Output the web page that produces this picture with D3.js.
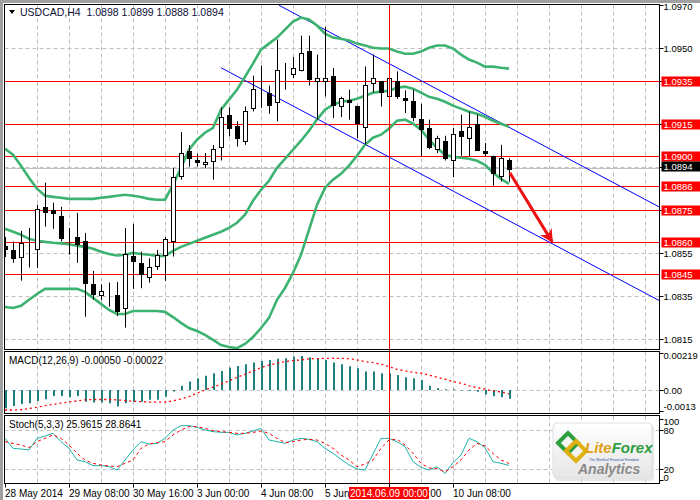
<!DOCTYPE html>
<html><head><meta charset="utf-8">
<script src="https://cdn.jsdelivr.net/npm/d3@7/dist/d3.min.js"></script>
<style>body{margin:0;background:#fff}svg{display:block}text{font-family:"Liberation Sans",Arial,sans-serif}</style>
</head><body><svg id="c" width="700" height="500"></svg>
<script>
// ---------- DATA ----------
const opens=[1.08583,1.08564,1.08531,1.08583,1.08570,1.08764,1.08750,1.08722,1.08632,1.08623,1.08603,1.08404,1.08353,1.08364,1.08353,1.08293,1.08536,1.08502,1.08440,1.08491,1.08541,1.08607,1.08909,1.09021,1.08983,1.08963,1.08979,1.09042,1.09192,1.09141,1.09068,1.09223,1.09305,1.09293,1.09249,1.09392,1.09381,1.09398,1.09489,1.09350,1.09350,1.09373,1.09230,1.09262,1.09234,1.09137,1.09341,1.09347,1.09277,1.09347,1.09269,1.09254,1.09173,1.09130,1.09032,1.09071,1.08983,1.09114,1.09083,1.09149,1.09024,1.09002,1.08909,1.0898];
const highs=[1.08624,1.08603,1.08652,1.08666,1.08773,1.08876,1.08783,1.08764,1.08666,1.08736,1.08643,1.08466,1.08404,1.08412,1.08415,1.08665,1.08685,1.08556,1.08525,1.08564,1.08623,1.08944,1.09111,1.09051,1.09010,1.09014,1.09051,1.09226,1.09226,1.09161,1.09230,1.09373,1.09420,1.09327,1.09541,1.09432,1.09460,1.09559,1.09559,1.09471,1.09600,1.09409,1.09275,1.09308,1.09234,1.09416,1.09471,1.09347,1.09364,1.09393,1.09305,1.09308,1.09243,1.09169,1.09094,1.09094,1.09130,1.09192,1.09207,1.09192,1.09060,1.09002,1.09052,1.0899];
const lows=[1.08531,1.08504,1.08421,1.08482,1.08480,1.08672,1.08662,1.08603,1.08542,1.08504,1.08254,1.08333,1.08331,1.08300,1.08257,1.08203,1.08383,1.08386,1.08412,1.08471,1.08420,1.08533,1.08890,1.08951,1.08951,1.08944,1.08890,1.08979,1.09091,1.09044,1.09052,1.09207,1.09224,1.09196,1.09161,1.09308,1.09362,1.09393,1.09327,1.09169,1.09277,1.09176,1.09181,1.09169,1.09083,1.09052,1.09295,1.09230,1.09271,1.09265,1.09200,1.09161,1.08998,1.09032,1.09014,1.08979,1.08902,1.09001,1.08998,1.09029,1.08998,1.08862,1.08882,1.0888];
const closes=[1.08569,1.08524,1.08597,1.08583,1.08755,1.08742,1.08733,1.08621,1.08632,1.08593,1.08412,1.08359,1.08372,1.08364,1.08280,1.08544,1.08510,1.08452,1.08486,1.08541,1.08614,1.08902,1.09014,1.08990,1.08970,1.08972,1.09032,1.09181,1.09130,1.09083,1.09210,1.09311,1.09305,1.09238,1.09401,1.09392,1.09409,1.09479,1.09359,1.09362,1.09362,1.09238,1.09269,1.09252,1.09153,1.09330,1.09361,1.09295,1.09362,1.09277,1.09258,1.09181,1.09127,1.09040,1.09083,1.08990,1.09102,1.09091,1.09137,1.09029,1.09014,1.08921,1.08992,1.0894];
const bbUpper=[1.09034,1.09006,1.08955,1.08899,1.08848,1.08815,1.08810,1.08806,1.08801,1.08801,1.08801,1.08801,1.08806,1.08810,1.08815,1.08820,1.08815,1.08810,1.08801,1.08797,1.08797,1.08866,1.08945,1.09029,1.09076,1.09108,1.09131,1.09215,1.09262,1.09308,1.09368,1.09429,1.09494,1.09522,1.09550,1.09587,1.09624,1.09643,1.09634,1.09606,1.09568,1.09550,1.09545,1.09536,1.09522,1.09513,1.09503,1.09499,1.09499,1.09485,1.09475,1.09475,1.09485,1.09503,1.09513,1.09513,1.09499,1.09471,1.09448,1.09434,1.09415,1.09415,1.09410,1.09406];
const bbMiddle=[1.08662,1.08648,1.08634,1.08615,1.08606,1.08601,1.08597,1.08594,1.08590,1.08583,1.08578,1.08569,1.08555,1.08545,1.08538,1.08541,1.08550,1.08545,1.08541,1.08536,1.08536,1.08559,1.08578,1.08592,1.08606,1.08620,1.08634,1.08648,1.08666,1.08690,1.08727,1.08792,1.08843,1.08885,1.08945,1.08987,1.09029,1.09071,1.09117,1.09169,1.09215,1.09238,1.09252,1.09257,1.09266,1.09280,1.09294,1.09299,1.09303,1.09317,1.09322,1.09313,1.09294,1.09275,1.09266,1.09252,1.09234,1.09220,1.09206,1.09196,1.09182,1.09164,1.09150,1.09136];
const bbLower=[1.08299,1.08294,1.08304,1.08332,1.08359,1.08383,1.08383,1.08383,1.08383,1.08383,1.08369,1.08341,1.08313,1.08285,1.08266,1.08266,1.08280,1.08280,1.08280,1.08280,1.08276,1.08252,1.08225,1.08201,1.08187,1.08169,1.08146,1.08122,1.08113,1.08108,1.08127,1.08159,1.08201,1.08248,1.08332,1.08387,1.08457,1.08541,1.08657,1.08773,1.08852,1.08890,1.08917,1.08955,1.09001,1.09052,1.09085,1.09099,1.09127,1.09164,1.09169,1.09150,1.09122,1.09076,1.09038,1.09006,1.08996,1.08992,1.08987,1.08978,1.08959,1.08922,1.08894,1.08871];
const macdHist=[-0.00103,-0.00090,-0.00079,-0.00075,-0.00062,-0.00053,-0.00034,-0.00034,-0.00041,-0.00034,-0.00066,-0.00071,-0.00071,-0.00075,-0.00094,-0.00075,-0.00066,-0.00066,-0.00056,-0.00056,-0.00038,-0.00009,0.00023,0.00047,0.00066,0.00079,0.00094,0.00107,0.00126,0.00135,0.00144,0.00154,0.00163,0.00169,0.00175,0.00178,0.00188,0.00191,0.00184,0.00178,0.00169,0.00154,0.00144,0.00133,0.00122,0.00103,0.00103,0.00094,0.00094,0.00084,0.00071,0.00066,0.00056,0.00023,0.00009,0.00004,0.00004,-0.00004,-0.00006,-0.00011,-0.00026,-0.00036,-0.00041,-0.00050];
const macdSignal=[-0.00113,-0.00113,-0.00111,-0.00105,-0.00098,-0.00088,-0.00081,-0.00075,-0.00068,-0.00062,-0.00056,-0.00054,-0.00054,-0.00054,-0.00056,-0.00060,-0.00064,-0.00066,-0.00068,-0.00069,-0.00069,-0.00062,-0.00051,-0.00038,-0.00019,0.00000,0.00015,0.00032,0.00051,0.00071,0.00088,0.00107,0.00126,0.00139,0.00150,0.00159,0.00165,0.00169,0.00175,0.00176,0.00178,0.00178,0.00178,0.00176,0.00169,0.00159,0.00154,0.00144,0.00131,0.00116,0.00107,0.00099,0.00094,0.00083,0.00071,0.00060,0.00047,0.00038,0.00023,0.00013,0.00004,-0.00006,-0.00011,-0.00022];
const stochK=[67.3,52.0,51.0,49.5,67.3,70.8,74.9,62.2,52.0,34.2,31.7,25.6,25.6,24.0,18.9,34.2,49.5,62.2,58.6,59.6,67.3,80.0,86.6,86.6,84.1,80.0,77.5,76.4,76.4,72.4,74.9,78.5,82.5,64.7,62.2,59.6,64.7,67.3,65.8,62.2,52.0,44.4,35.2,26.6,20.5,18.9,43.4,67.3,67.3,62.2,54.5,31.7,23.0,18.9,24.0,13.8,30.1,41.8,67.3,62.2,53.0,31.7,29.1,25.96];
const stochD=[62.2,59.6,57.1,53.0,62.2,67.3,72.4,67.3,57.1,44.4,34.2,29.1,26.6,25.1,24.0,29.1,34.2,52.0,58.6,60.7,62.2,72.4,80.0,85.1,85.1,82.5,79.0,77.5,76.4,74.9,74.9,76.4,78.5,74.9,67.3,60.7,62.2,64.7,65.8,64.7,59.6,52.0,41.8,34.2,24.0,28.1,34.2,52.0,64.7,65.8,57.1,44.4,29.1,22.0,21.0,15.9,24.0,34.2,49.5,59.6,55.6,44.4,34.2,28.86];
const levels=[1.0935,1.0915,1.0900,1.0886,1.0875,1.0860,1.0845];
const priceTicks=[1.0970,1.0950,1.0935,1.0915,1.0895,1.0875,1.0855,1.0835,1.0815];
const priceGrid=[1.0950,1.0935,1.0915,1.0895,1.0875,1.0855,1.0835,1.0815];
const timeBars=[0,8,16,24,32,40,48,56];
const timeLabels=["28 May 2014","29 May 08:00","30 May 16:00","3 Jun 00:00","4 Jun 08:00","5 Jun 16:00","9 Jun 00:00","10 Jun 08:00"];
const macdTicks=[0.00219,0.00,-0.0013];
const macdTickLabels=["0.00219","0.00","-0.0013"];
const stochTicks=[100,80,20,0];
const channelUpper=[[34.25,1.09700],[81.75,1.08764]];
const channelLower=[[27,1.09410],[81.75,1.08329]];
const arrowPts=[[63.1,1.08922],[68.4,1.08601]];
const cursorBar=48, cursorLabel="2014.06.09 00:00";
const lastPrice=1.0894;
const title="USDCAD,H4  1.0898 1.0899 1.0888 1.0894";
const macdTitle="MACD(12,26,9) -0.00050 -0.00022";
const stochTitle="Stoch(5,3,3) 25.9615 28.8641";

// ---------- LAYOUT ----------
const svg=d3.select("#c");
const L=4.5, R=659.5;
const mainT=4.5, mainB=349.5, macdT=351.5, macdB=413.5, stT=415.5, stB=483.5;
const x=d3.scaleLinear().domain([0,1]).range([5,13]);
const y=d3.scaleLinear().domain([1.0815,1.0970]).range([339,5.3]);
const ym=d3.scaleLinear().domain([-0.0013,0.00219]).range([413,351]);
const ys=d3.scaleLinear().domain([0,100]).range([482.4,416.9]);
const idx=d3.range(opens.length);
const GREEN="#3cb371";

svg.append("rect").attr("x",0).attr("y",0).attr("width",700).attr("height",500).attr("fill","#fff");
svg.append("rect").attr("x",0).attr("y",0).attr("width",700).attr("height",3).attr("fill","#a0a0a0");
svg.append("rect").attr("x",0).attr("y",0).attr("width",3).attr("height",500).attr("fill","#a0a0a0");

const defs=svg.append("defs");
[["cm",mainT,mainB],["cmacd",macdT,macdB],["cst",stT,stB]].forEach(([id,t,b])=>{
  defs.append("clipPath").attr("id",id).append("rect").attr("x",L).attr("y",t).attr("width",R-L).attr("height",b-t);
});
defs.append("marker").attr("id","ah").attr("viewBox","0 0 10 10").attr("refX",9).attr("refY",5)
  .attr("markerWidth",4.5).attr("markerHeight",4.5).attr("orient","auto")
  .append("path").attr("d","M0,0 L10,5 L0,10 L3,5 Z").attr("fill","#ee1111");
const lg=defs.append("linearGradient").attr("id","lgbg").attr("x1",0).attr("y1",0).attr("x2",0).attr("y2",1);
lg.append("stop").attr("offset","0").attr("stop-color","#ffffff");
lg.append("stop").attr("offset","1").attr("stop-color","#e6e6e6");

// grids
const gridStyle=s=>s.attr("stroke","#c0c0c0").attr("stroke-width",1).attr("stroke-dasharray","4,3");
const vgrid=d3.range(4,82,4).filter(b=>x(b)<R-2);
[[mainT,mainB],[macdT,macdB],[stT,stB]].forEach(([t,b])=>{
  svg.append("g").selectAll("line").data(vgrid).join("line")
    .attr("x1",b2=>x(b2)+0.5).attr("x2",b2=>x(b2)+0.5).attr("y1",t).attr("y2",b).call(gridStyle);
});
svg.append("g").selectAll("line").data(priceGrid).join("line")
  .attr("x1",L).attr("x2",R).attr("y1",d=>Math.round(y(d))+0.5).attr("y2",d=>Math.round(y(d))+0.5).call(gridStyle);
svg.append("line").attr("x1",L).attr("x2",R).attr("y1",Math.round(ym(0))+0.5).attr("y2",Math.round(ym(0))+0.5).call(gridStyle);
svg.append("g").selectAll("line").data([80,20]).join("line")
  .attr("x1",L).attr("x2",R).attr("y1",d=>Math.round(ys(d))+0.5).attr("y2",d=>Math.round(ys(d))+0.5).call(gridStyle);

// main panel content
const gm=svg.append("g").attr("clip-path","url(#cm)");
gm.append("line").attr("x1",L).attr("x2",R).attr("y1",Math.round(y(lastPrice))-0.5).attr("y2",Math.round(y(lastPrice))-0.5)
  .attr("stroke","#c0c0c0").attr("stroke-width",1);
gm.selectAll(".lvl").data(levels).join("line").attr("class","lvl")
  .attr("x1",L).attr("x2",R).attr("y1",d=>Math.round(y(d))+0.5).attr("y2",d=>Math.round(y(d))+0.5)
  .attr("stroke","#ff0000").attr("stroke-width",1);
const bl=d3.line().x(d=>x(d[0])).y(d=>y(d[1]));
[channelUpper,channelLower].forEach(c=>{
  gm.append("path").attr("d",bl(c)).attr("stroke","#0000ff").attr("stroke-width",1).attr("fill","none");
});
const band=d3.line().x((d,i)=>x(i)).y(d=>y(d));
[bbUpper,bbMiddle,bbLower].forEach(arr=>{
  gm.append("path").attr("d",band(arr)).attr("stroke",GREEN).attr("stroke-width",2.6).attr("fill","none");
});
const cg=gm.append("g");
cg.selectAll(".wk").data(idx).join("line").attr("class","wk")
  .attr("x1",i=>x(i)+0.5).attr("x2",i=>x(i)+0.5).attr("y1",i=>y(highs[i])).attr("y2",i=>y(lows[i]))
  .attr("stroke","#000").attr("stroke-width",1);
cg.selectAll(".bd").data(idx).join("rect").attr("class","bd")
  .attr("x",i=>x(i)-1.5).attr("width",4)
  .attr("y",i=>Math.round(y(Math.max(opens[i],closes[i])))+0.5)
  .attr("height",i=>Math.max(0,Math.round(y(Math.min(opens[i],closes[i])))-Math.round(y(Math.max(opens[i],closes[i])))))
  .attr("fill",i=>closes[i]>=opens[i]?"#fff":"#000").attr("stroke","#000").attr("stroke-width",1);
gm.append("line").attr("x1",x(arrowPts[0][0])).attr("y1",y(arrowPts[0][1])).attr("x2",x(arrowPts[1][0])).attr("y2",y(arrowPts[1][1]))
  .attr("stroke","#ee1111").attr("stroke-width",3).attr("marker-end","url(#ah)");

// MACD
const gmacd=svg.append("g").attr("clip-path","url(#cmacd)");
gmacd.selectAll("line").data(idx).join("line")
  .attr("x1",i=>x(i)+1).attr("x2",i=>x(i)+1).attr("y1",ym(0)).attr("y2",i=>ym(macdHist[i]))
  .attr("stroke","#208080").attr("stroke-width",2);
gmacd.append("path").attr("d",d3.line().x((d,i)=>x(i)).y(d=>ym(d))(macdSignal))
  .attr("stroke","#ff0000").attr("stroke-width",1.3).attr("stroke-dasharray","2,3").attr("fill","none");

// Stoch
const gst=svg.append("g").attr("clip-path","url(#cst)");
gst.append("path").attr("d",d3.line().x((d,i)=>x(i)).y(d=>ys(d))(stochK))
  .attr("stroke","#20b2aa").attr("stroke-width",1).attr("fill","none");
gst.append("path").attr("d",d3.line().x((d,i)=>x(i)).y(d=>ys(d))(stochD))
  .attr("stroke","#ff0000").attr("stroke-width",1).attr("stroke-dasharray","3,3").attr("fill","none");

svg.append("line").attr("x1",x(cursorBar)+0.5).attr("x2",x(cursorBar)+0.5).attr("y1",mainT).attr("y2",stB)
  .attr("stroke","#ff0000").attr("stroke-width",1);

[[mainT,mainB],[macdT,macdB],[stT,stB]].forEach(([t,b])=>{
  svg.append("rect").attr("x",L).attr("y",t).attr("width",R-L).attr("height",b-t)
    .attr("fill","none").attr("stroke","#000").attr("stroke-width",1);
});

// price axis
const ax=svg.append("g").attr("font-size",9.5).attr("fill","#000");
priceTicks.forEach(p=>{
  const yy=Math.round(y(p))+0.5;
  ax.append("line").attr("x1",R).attr("x2",R+4).attr("y1",yy).attr("y2",yy).attr("stroke","#000");
  ax.append("text").attr("x",R+4).attr("y",Math.max(yy,6)+3.5).text(p.toFixed(4));
});
levels.forEach(p=>{
  const yy=Math.round(y(p))+0.5;
  ax.append("rect").attr("x",R+2).attr("y",yy-5).attr("width",40).attr("height",10).attr("fill","#ff0000");
  ax.append("text").attr("x",R+4).attr("y",yy+3.5).attr("fill","#fff").text(p.toFixed(4));
});
{
  const yy=Math.round(y(lastPrice))-2.5;
  ax.append("rect").attr("x",R+2).attr("y",yy-5).attr("width",40).attr("height",10).attr("fill","#000");
  ax.append("text").attr("x",R+4).attr("y",yy+3.5).attr("fill","#fff").text(lastPrice.toFixed(4));
}
macdTicks.forEach((v,k)=>{
  const yy=Math.round(ym(v))+0.5;
  const ty=k===0?yy+7:(k===2?yy-4:yy+3.5);
  const ly=k===0?yy+2:(k===2?yy-2:yy);
  ax.append("line").attr("x1",R).attr("x2",R+4).attr("y1",ly).attr("y2",ly).attr("stroke","#000");
  ax.append("text").attr("x",R+4).attr("y",ty).text(macdTickLabels[k]);
});
stochTicks.forEach(v=>{
  const yy=Math.round(ys(v))+0.5;
  const ty=v===100?yy+7:(v===0?yy-2:yy+3);
  const ly=v===100?yy+2:(v===0?yy-2:yy);
  ax.append("line").attr("x1",R).attr("x2",R+4).attr("y1",ly).attr("y2",ly).attr("stroke","#000");
  ax.append("text").attr("x",R+4).attr("y",ty).text(v);
});

// time axis
const tx=svg.append("g").attr("font-size",10).attr("fill","#000");
timeBars.forEach((b,k)=>{
  tx.append("line").attr("x1",x(b)+0.5).attr("x2",x(b)+0.5).attr("y1",stB).attr("y2",stB+4).attr("stroke","#000");
  tx.append("text").attr("x",x(b)).attr("y",497).text(timeLabels[k]);
});
tx.append("rect").attr("x",x(cursorBar)-40).attr("y",487).attr("width",80).attr("height",12).attr("fill","#ff0000");
tx.append("text").attr("x",x(cursorBar)).attr("y",497).attr("text-anchor","middle").attr("fill","#fff").text(cursorLabel);

// titles
svg.append("path").attr("d","M9,10 L15,10 L12,14 Z").attr("fill","#000");
svg.append("text").attr("x",20).attr("y",16).attr("font-size",10.5).attr("fill","#101038").attr("xml:space","preserve").text(title);
svg.append("text").attr("x",9).attr("y",364).attr("font-size",10).attr("fill","#000").text(macdTitle);
svg.append("text").attr("x",9).attr("y",428).attr("font-size",10).attr("fill","#000").text(stochTitle);

// logo
const lgG=svg.append("g");
lgG.append("rect").attr("x",555).attr("y",425).attr("width",99).attr("height",56).attr("rx",4).attr("fill","#d8d8d8").attr("opacity",0.6);
lgG.append("rect").attr("x",553).attr("y",423).attr("width",99).attr("height",55).attr("rx",4).attr("fill","url(#lgbg)").attr("stroke","#e0e0e0");
lgG.append("path").attr("d","M558,443 L568,433 L578,443 L568,453 Z").attr("fill","none").attr("stroke","#2e9e3e").attr("stroke-width",4);
lgG.append("path").attr("d","M566,451 L576,441 L586,451 L576,461 Z").attr("fill","none").attr("stroke","#e0b010").attr("stroke-width",4);
lgG.append("text").attr("x",585).attr("y",453).attr("font-size",15).attr("font-weight","bold").attr("font-style","italic")
  .html('<tspan fill="#e0a010">Lite</tspan><tspan fill="#2e9e3e">Forex</tspan>');
lgG.append("text").attr("x",589).attr("y",461).attr("font-size",3.5).attr("fill","#3050a0").text("The World of Financial Freedom");
lgG.append("text").attr("x",578).attr("y",474).attr("font-size",14).attr("font-weight","bold").attr("font-style","italic").attr("fill","#8a8a8a").text("Analytics");
</script></body></html>
